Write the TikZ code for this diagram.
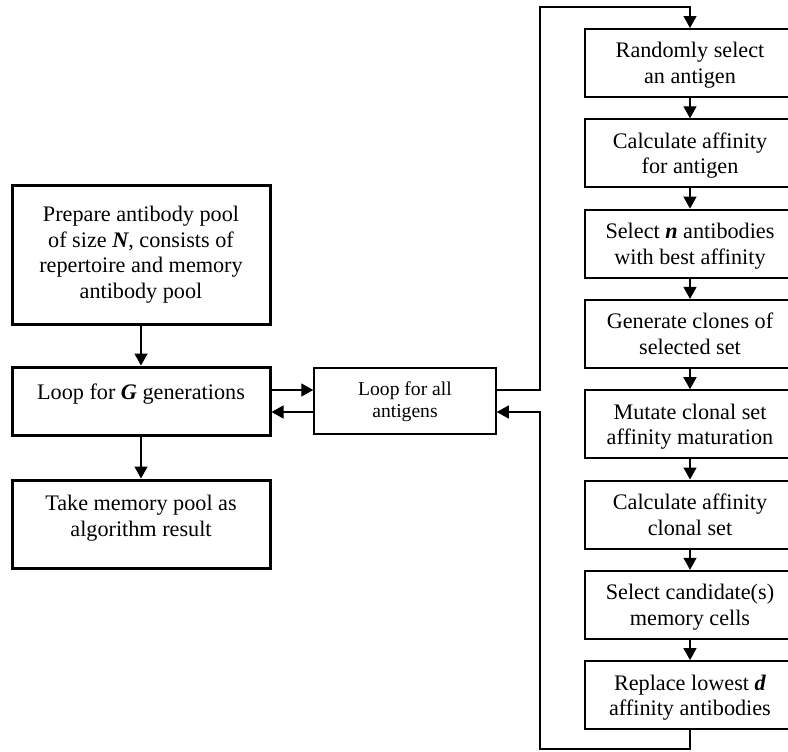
\documentclass[tikz,border=0pt]{standalone}
\usepackage{fontspec}
\setmainfont{Liberation Serif}
\usetikzlibrary{arrows.meta}

\begin{document}
\begin{tikzpicture}[x=0.5pt,y=-0.5pt,
    arr/.style={line width=0.65pt,-{Triangle[length=6pt,width=6.5pt]}},
    bigbox/.style={draw,line width=1.5pt,minimum width=129pt,align=center,
        font=\fontsize{11.1}{12.8}\selectfont},
    stepbox/.style={draw,line width=1pt,minimum width=105pt,minimum height=34pt,
        align=center,text depth=-4pt,font=\fontsize{11.1}{12.8}\selectfont},
    loopbox/.style={draw,line width=0.75pt,minimum width=91pt,minimum height=33pt,
        align=center,font=\fontsize{9.8}{11}\selectfont}]
            \useasboundingbox (0,0) rectangle (788,751);
            \clip (0,0) rectangle (788,751);

            % left column
            \node[bigbox,minimum height=69.5pt] (prep) at (141,254.5)
                {Prepare antibody pool\\of size \textit{\textbf{N}}, consists of\\repertoire and memory\\antibody pool};
            \node[bigbox,minimum height=34pt,text depth=9.5pt] (loopG) at (141,401)
                {Loop for \textit{\textbf{G}} generations};
            \node[bigbox,minimum height=44pt,text depth=8pt] (result) at (141,524)
                {Take memory pool as\\algorithm result};

            \node[loopbox,text depth=1pt] (loopA) at (405,401) {Loop for all\\antigens};

            % right column
            \foreach \i/\txt in {1/{Randomly select\\an antigen},
                                 2/{Calculate affinity\\for antigen},
                                 3/{Select \textit{\textbf{n}} antibodies\\with best affinity},
                                 4/{Generate clones of\\selected set},
                                 5/{Mutate clonal set\\affinity maturation},
                                 6/{Calculate affinity\\clonal set},
                                 7/{Select candidate(s)\\memory cells},
                                 8/{Replace lowest \textit{\textbf{d}}\\affinity antibodies}}{
                \pgfmathsetmacro{\ypos}{63+(\i-1)*90.3}
                \node[stepbox] (r\i) at (690,\ypos) {\txt};
            }
            \foreach \i [evaluate=\i as \j using int(\i+1)] in {1,...,7}
                \draw[arr] (r\i) -- (r\j);

            \coordinate (tl) at (540,7);
            \coordinate (bl) at (540,749);

            \draw[arr] (prep) -- (loopG);
            \draw[arr] (loopG) -- (result);
            \draw[arr] ([yshift=5.5pt]loopG.east) -- ([yshift=5.5pt]loopA.west);
            \draw[arr] ([yshift=-5.5pt]loopA.west) -- ([yshift=-5.5pt]loopG.east);
            \draw[arr] ([yshift=5.5pt]loopA.east) -| (tl) -| (r1.north);
            \draw[arr] (r8.south) |- (bl) |- ([yshift=-5.5pt]loopA.east);
\end{tikzpicture}
\end{document}
